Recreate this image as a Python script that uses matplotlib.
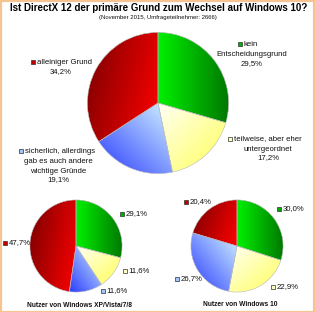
import numpy as np
import matplotlib
matplotlib.use("Agg")
import matplotlib.pyplot as plt
from matplotlib.colors import LinearSegmentedColormap
from matplotlib.patches import Rectangle

# ---------------- data ----------------
title = "Ist DirectX 12 der primäre Grund zum Wechsel auf Windows 10?"
subtitle = "(November 2015, Umfrageteilnehmer: 2666)"
categories = ["kein Entscheidungsgrund", "teilweise, aber eher untergeordnet",
              "sicherlich, allerdings gab es auch andere wichtige Gründe",
              "alleiniger Grund"]
main_values = [29.5, 17.2, 19.1, 34.2]
xp_values = [29.1, 11.6, 11.6, 47.7]
w10_values = [30.0, 22.9, 26.7, 20.4]
xp_title = "Nutzer von Windows XP/Vista/7/8"
w10_title = "Nutzer von Windows 10"

def fmt(v):
    return f"{v:.1f}%".replace(".", ",")

# ---------------- style ----------------
W, H = 315, 312
fig = plt.figure(figsize=(W / 100, H / 100), dpi=100)
fig.patch.set_facecolor("white")
FONT = "Liberation Sans"
renderer = fig.canvas.get_renderer()

grads = [
    ("#00f000", "#007800", 0),     # green
    ("#fffff6", "#ffff58", -45),   # yellow
    ("#2a3cff", "#d4f6ff", 45),    # blue
    ("#7a0000", "#ff0000", -20),   # red
]
swatch = ["#00b000", "#ffffc0", "#a0c8ff", "#c00000"]

def px(x, y):
    return x / W, 1 - y / H

def draw_pie(cx, cy, r, values):
    ax = fig.add_axes([(cx - r) / W, 1 - (cy + r) / H, 2 * r / W, 2 * r / H])
    wedges, _ = ax.pie(values, startangle=90, counterclock=False, radius=1,
                       wedgeprops=dict(edgecolor="#b8b8b8", linewidth=0.4))
    ax.set_aspect("equal")
    ax.axis("off")
    for w, (c1, c2, ang) in zip(wedges, grads):
        bb = w.get_path().get_extents()
        n = 64
        xs = np.linspace(0, 1, n)
        X, Y = np.meshgrid(xs, xs)
        a = np.deg2rad(ang)
        t = X * np.cos(a) + Y * np.sin(a)
        t = (t - t.min()) / (t.max() - t.min())
        cmap = LinearSegmentedColormap.from_list("g", [c1, c2])
        im = ax.imshow(t, cmap=cmap, origin="lower",
                       extent=[bb.x0, bb.x1, bb.y0, bb.y1],
                       interpolation="bilinear", zorder=1)
        im.set_clip_path(w)
        w.set_facecolor("none")
        w.set_zorder(2)
    ax.set_xlim(-1.02, 1.02)
    ax.set_ylim(-1.02, 1.02)
    return ax

def swatch_at(x, y, idx):
    s = 4.2
    fig.patches.append(Rectangle(((x) / W, 1 - (y + s / 2) / H), s / W, s / H,
                                 transform=fig.transFigure, facecolor=swatch[idx],
                                 edgecolor="#303030", linewidth=0.5))

def txt(x, y, s, fs=5.6, ha="center", weight="normal"):
    return fig.text(*px(x, y), s, fontsize=fs, ha=ha, va="center", family=FONT,
                    weight=weight, color="#111111", linespacing=1.15)

def fit(t, width_px):
    w = t.get_window_extent(renderer).width
    t.set_fontsize(t.get_fontsize() * width_px / w)

# titles
t1 = fig.text(*px(158.5, 8), title, fontsize=8, ha="center", va="center",
              family=FONT, weight="bold", color="#000000")
fit(t1, 297)
t2 = fig.text(*px(157.5, 17.5), subtitle, fontsize=5, ha="center", va="center",
              family=FONT, color="#111111")
fit(t2, 121)

# pies
draw_pie(158, 103, 72, main_values)
draw_pie(76, 246, 47, xp_values)
draw_pie(237, 246, 47, w10_values)

fs = 5.6
g = 5.8
swatch_at(238, 44, 0); txt(238 + g, 44, "kein", fs, ha="left")
txt(252, 54, "Entscheidungsgrund", fs); txt(252, 64, fmt(main_values[0]), fs)
swatch_at(228, 139, 1); txt(228 + g, 139, "teilweise, aber eher", fs, ha="left")
txt(268, 149, "untergeordnet", fs); txt(268, 158, fmt(main_values[1]), fs)
swatch_at(19, 151, 2); txt(19 + g, 151, "sicherlich, allerdings", fs, ha="left")
txt(58, 161, "gab es auch andere", fs); txt(58, 171, "wichtige Gründe", fs)
txt(58, 180, fmt(main_values[2]), fs)
swatch_at(31, 62, 3); txt(31 + g, 62, "alleiniger Grund", fs, ha="left")
txt(61, 72, fmt(main_values[3]), fs)

swatch_at(120, 214, 0); txt(120 + g, 214, fmt(xp_values[0]), fs, ha="left")
swatch_at(123, 271, 1); txt(123 + g, 271, fmt(xp_values[1]), fs, ha="left")
swatch_at(101, 291, 2); txt(101 + g, 291, fmt(xp_values[2]), fs, ha="left")
swatch_at(3, 243, 3); txt(3 + g, 243, fmt(xp_values[3]), fs, ha="left")
t3 = txt(79.5, 305.5, xp_title, 5.0, weight="bold"); fit(t3, 107)

swatch_at(277, 209, 0); txt(277 + g, 209, fmt(w10_values[0]), fs, ha="left")
swatch_at(271, 287, 1); txt(271 + g, 287, fmt(w10_values[1]), fs, ha="left")
swatch_at(175, 279, 2); txt(175 + g, 279, fmt(w10_values[2]), fs, ha="left")
swatch_at(184, 202, 3); txt(184 + g, 202, fmt(w10_values[3]), fs, ha="left")
t4 = txt(240, 305, w10_title, 5.0, weight="bold"); fit(t4, 76)

fig.patches.append(Rectangle((0.5 / W, 0.5 / H), 1 - 1.5 / W, 1 - 1.5 / H,
                             transform=fig.transFigure, fill=False,
                             edgecolor="#f6c490", linewidth=1.6))

fig.savefig("out.png", dpi=100)
